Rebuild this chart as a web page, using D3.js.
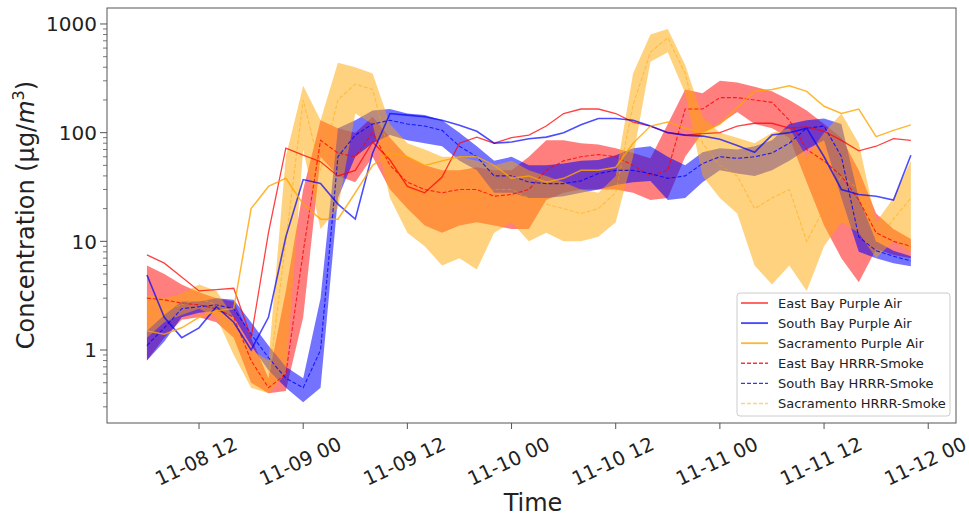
<!DOCTYPE html>
<html lang="en">
<head>
<meta charset="UTF-8">
<title>Concentration</title>
<style>
  body { margin: 0; background: #fff; }
  svg { font-family: "DejaVu Sans", sans-serif; }
</style>
<script src="https://d3js.org/d3.v7.min.js"></script>
</head>
<body>
<svg width="969" height="516"></svg>
<script>
// hours after 2018-11-08 00:00
const hours = [6,8,10,12,14,16,18,20,22,24,26,28,30,32,34,36,38,40,42,44,46,48,50,52,54,56,58,60,62,64,66,68,70,72,74,76,78,80,82,84,86,88,90,92,94];

const eastBayPA = [7.5,6.3,4.7,3.5,3.6,3.7,1.3,12,72,62,54,40,45,82,56,32,28,39,80,91,80,90,95,115,150,165,165,150,125,115,100,95,98,100,115,122,122,110,113,103,85,68,75,88,85];
const southBayPA = [4.9,2.0,1.3,1.6,2.5,1.8,1.0,2.0,11,37,34,22,16,65,150,145,140,130,117,103,80,82,88,91,100,118,135,135,130,115,100,95,93,87,76,66,95,100,110,60,30,27,26,24,62];
const sacramentoPA = [1.5,1.4,1.6,2.0,2.3,2.4,20,32,38,22,16,16,28,50,65,60,50,55,60,60,50,38,40,35,38,45,45,48,80,115,125,110,100,120,170,240,250,270,240,175,150,165,92,105,118];

const eastBayHRRR = [3.0,2.9,2.7,2.6,2.4,2.0,0.8,0.45,0.6,8,85,65,60,100,50,35,30,28,30,30,26,27,30,45,55,60,63,60,50,40,45,165,165,210,210,200,190,130,70,55,40,24,12,10,9];
const eastBayLow = [0.8,1.3,1.9,2.0,1.8,1.3,0.5,0.4,0.42,2,60,40,35,60,30,20,14,12,14,15,14,13,13,24,28,30,30,30,28,24,25,60,100,120,155,120,110,90,35,14,7,4.2,8.5,7.5,7];
const eastBayHigh = [6.0,5.0,4.0,3.4,3.0,2.8,1.3,0.55,3.5,30,130,110,100,140,90,60,50,45,45,48,45,45,60,85,85,80,78,72,65,58,120,250,230,300,290,265,240,200,160,120,90,45,18,13,10.5];

const southBayHRRR = [1.1,1.6,2.4,2.5,2.6,2.4,1.4,0.85,0.55,0.45,1.0,60,95,120,130,120,115,105,75,60,40,40,35,34,34,36,42,45,45,42,38,40,52,60,58,60,65,80,110,115,60,11,8.2,7.3,6.6];
const southBayLow = [0.8,1.2,2.0,2.2,2.3,2.0,1.1,0.65,0.45,0.33,0.45,25,60,80,95,85,80,75,55,45,28,28,25,25,26,28,30,33,35,36,24,25,35,45,42,40,45,55,70,85,25,8,7,6.3,5.9];
const southBayHigh = [1.5,2.1,2.8,2.8,3.0,2.9,1.8,1.1,0.7,0.55,3,110,130,160,165,150,145,130,100,75,55,60,50,50,52,55,56,62,72,75,60,50,66,72,70,75,85,120,130,135,120,25,10,8.2,7.3];

const sacramentoHRRR = [2.2,2.3,2.6,3.0,2.6,1.4,0.7,0.5,10,200,45,200,280,250,60,30,25,22,25,25,30,30,25,22,20,18,20,28,180,550,750,350,80,50,40,20,25,30,10,20,40,30,10,16,25];
const sacramentoLow = [1.3,1.8,2.1,2.4,2.0,0.9,0.45,0.4,0.6,70,13,20,150,120,25,12,9,6,7,5.5,12,15,10,12,10,10,11,15,60,450,550,230,40,25,18,6,4,6,3.5,9,15,12,7,10,8];
const sacramentoHigh = [3.2,3.0,3.3,4.0,3.5,2.0,1.0,0.8,60,270,130,440,400,350,120,80,70,60,60,55,50,55,45,40,35,30,28,40,350,800,900,420,140,100,90,80,100,110,60,100,150,80,15,25,55];

const yMajor = [1, 10, 100, 1000];
const yMajorLabels = ["1", "10", "100", "1000"];

const legendLabels = ["East Bay Purple Air", "South Bay Purple Air", "Sacramento Purple Air",
                      "East Bay HRRR-Smoke", "South Bay HRRR-Smoke", "Sacramento HRRR-Smoke"];

const svg = d3.select("svg");
const mLeft = 107, mRight = 956, mTop = 8, mBottom = 423;

const toDate = h => new Date(2018, 10, 8, h);
const x = d3.scaleTime()
    .domain([new Date(2018, 10, 8, 1, 24), new Date(2018, 10, 12, 3, 12)])
    .range([mLeft, mRight]);
const y = d3.scaleLog()
    .domain([0.213, 1403])
    .range([mBottom, mTop]);

svg.append("rect").attr("width", 969).attr("height", 516).attr("fill", "#fff");

svg.append("clipPath").attr("id", "plot")
  .append("rect").attr("x", mLeft).attr("y", mTop)
  .attr("width", mRight - mLeft).attr("height", mBottom - mTop);

const g = svg.append("g").attr("clip-path", "url(#plot)");

const bands = [
    { low: eastBayLow, high: eastBayHigh, color: "#ff0000", op: 0.5 },
    { low: southBayLow, high: southBayHigh, color: "#0000ff", op: 0.55 },
    { low: sacramentoLow, high: sacramentoHigh, color: "#ffa500", op: 0.5 }
];

const area = d3.area()
    .x(d => x(toDate(d.h)))
    .y0(d => y(d.lo))
    .y1(d => y(d.hi));

bands.forEach(b => {
    const pts = hours.map((h, i) => ({ h: h, lo: b.low[i], hi: b.high[i] }));
    g.append("path")
        .attr("d", area(pts))
        .attr("fill", b.color)
        .attr("fill-opacity", b.op)
        .attr("stroke", "none");
});

const line = d3.line()
    .x(d => x(toDate(d.h)))
    .y(d => y(d.v));

const series = [
    { vals: eastBayPA, color: "#ff0000", op: 0.75, w: 1.3, dash: null },
    { vals: southBayPA, color: "#0000ff", op: 0.7, w: 1.6, dash: null },
    { vals: sacramentoPA, color: "#ffa500", op: 0.8, w: 1.5, dash: null },
    { vals: eastBayHRRR, color: "#ff0000", op: 0.8, w: 1.1, dash: "4,2" },
    { vals: southBayHRRR, color: "#0000ff", op: 0.8, w: 1.1, dash: "4,2" },
    { vals: sacramentoHRRR, color: "#ffa500", op: 0.5, w: 1.1, dash: "4,2" }
];

// dashed model lines under the measured ones
[3, 4, 5, 0, 1, 2].forEach(k => {
    const s = series[k];
    g.append("path")
        .attr("d", line(hours.map((h, i) => ({ h: h, v: s.vals[i] }))))
        .attr("fill", "none")
        .attr("stroke", s.color)
        .attr("stroke-opacity", s.op)
        .attr("stroke-width", s.w)
        .attr("stroke-dasharray", s.dash);
});

// frame
svg.append("rect")
    .attr("x", mLeft).attr("y", mTop)
    .attr("width", mRight - mLeft).attr("height", mBottom - mTop)
    .attr("fill", "none").attr("stroke", "#555").attr("stroke-width", 1);

// y axis ticks
const minor = y.ticks().filter(v => yMajor.indexOf(v) < 0);
svg.selectAll(".ymin").data(minor).enter().append("line")
    .attr("x1", mLeft - 4).attr("x2", mLeft)
    .attr("y1", d => y(d)).attr("y2", d => y(d))
    .attr("stroke", "#555").attr("stroke-width", 0.8);
svg.selectAll(".ymaj").data(yMajor).enter().append("line")
    .attr("x1", mLeft - 7).attr("x2", mLeft)
    .attr("y1", d => y(d)).attr("y2", d => y(d))
    .attr("stroke", "#555").attr("stroke-width", 1);
svg.selectAll(".ylab").data(yMajor).enter().append("text")
    .attr("x", mLeft - 10).attr("y", d => y(d))
    .attr("dy", "0.36em")
    .attr("text-anchor", "end")
    .attr("font-size", 20).attr("fill", "#222")
    .text((d, i) => yMajorLabels[i]);

// x axis ticks
const fmt = d3.timeFormat("%m-%d %H");
const xt = x.ticks(d3.timeHour.every(12));
svg.selectAll(".xt").data(xt).enter().append("line")
    .attr("x1", d => x(d)).attr("x2", d => x(d))
    .attr("y1", mBottom).attr("y2", mBottom + 6)
    .attr("stroke", "#555").attr("stroke-width", 1);
svg.selectAll(".xl").data(xt).enter().append("text")
    .attr("transform", d => `translate(${x(d) - 3},461) rotate(-25)`)
    .attr("text-anchor", "middle")
    .attr("dy", "0.36em")
    .attr("font-size", 19.5).attr("fill", "#222")
    .text(d => fmt(d));

// axis titles
svg.append("text")
    .attr("x", 533).attr("y", 511)
    .attr("text-anchor", "middle")
    .attr("font-size", 24).attr("fill", "#222")
    .text("Time");

const yl = svg.append("text")
    .attr("transform", "translate(34,215) rotate(-90)")
    .attr("text-anchor", "middle")
    .attr("font-size", 24).attr("fill", "#222");
yl.append("tspan").text("Concentration (μg/");
yl.append("tspan").attr("font-style", "italic").text("m");
yl.append("tspan").attr("font-size", 16).attr("dy", -10).text("3");
yl.append("tspan").attr("dy", 10).text(")");

// legend
const lg = svg.append("g").attr("transform", "translate(737,293)");
lg.append("rect")
    .attr("width", 213).attr("height", 123).attr("rx", 3)
    .attr("fill", "#fff").attr("fill-opacity", 0.8)
    .attr("stroke", "#ccc").attr("stroke-width", 1);
legendLabels.forEach((t, i) => {
    const s = series[i];
    const cy = 10 + i * 20.1;
    lg.append("line")
        .attr("x1", 4).attr("x2", 31).attr("y1", cy).attr("y2", cy)
        .attr("stroke", s.color).attr("stroke-opacity", s.op)
        .attr("stroke-width", s.w + 0.3)
        .attr("stroke-dasharray", s.dash);
    lg.append("text")
        .attr("x", 41).attr("y", cy).attr("dy", "0.36em")
        .attr("font-size", 13).attr("fill", "#222")
        .text(t);
});
</script>
</body>
</html>
